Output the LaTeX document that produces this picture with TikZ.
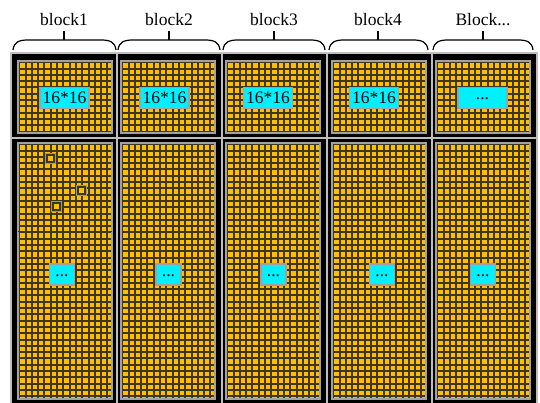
\documentclass[tikz,border=0pt]{standalone}
\usepackage{fontspec}
\setmainfont{Liberation Serif}
\definecolor{orgfill}{RGB}{255,190,0}
\definecolor{gridcol}{RGB}{62,54,30}
\definecolor{framegray}{RGB}{190,190,190}
\definecolor{cyanfill}{RGB}{0,240,255}
\definecolor{cyanborder}{RGB}{160,160,160}
\tikzset{
  blockframe/.style={fill=black, draw=framegray, line width=1.4pt},
  innerborder/.style={draw=framegray!85!black, line width=1.3pt},
  gridline/.style={draw=gridcol, line width=2pt},
  cyanbox/.style={fill=cyanfill, draw=cyanborder, line width=1.6pt, inner sep=0pt,
     font=\fontsize{17.5}{19}\selectfont},
  labeltext/.style={font=\fontsize{17.5}{19}\selectfont, inner sep=0pt},
  bracestyle/.style={draw=black, line width=1.2pt},
  marksq/.style={draw=gridcol, line width=1.6pt, fill=orgfill, sharp corners},
  marksqout/.style={draw=framegray!80!black, line width=0.8pt, sharp corners}
}
% x0 y0 w h ncols nrows
\newcommand\myorangegrid[6]{%
  \fill[orgfill] (#1,#2) rectangle ++(#3,#4);
  \begin{scope}
    \clip (#1,#2) rectangle ++(#3,#4);
    \foreach \k in {0,...,#5} \draw[gridline] (#1+1.2+\k*6.3,#2) -- ++(0,#4);
    \foreach \k in {0,...,#6} \draw[gridline] (#1,#2+1.2+\k*6.3) -- ++(#3,0);
  \end{scope}
  \draw[innerborder] (#1,#2) rectangle ++(#3,#4);
}
\newcommand\mybrace[3]{% left right stub
  \draw[bracestyle] (#1,50) .. controls (#1+1,42) and (#1+6,40) .. (#1+15,40)
     -- (#2-15,40) .. controls (#2-6,40) and (#2-1,42) .. (#2,50);
  \draw[bracestyle] (#3,40) -- (#3,31);
}
\newcommand\mymark[2]{%
  \draw[marksq] (#1,#2) rectangle ++(7,7);
  \draw[marksqout] (#1-1.3,#2-1.3) rectangle ++(9.6,9.6);
}
\begin{document}
\begin{tikzpicture}[x=1pt,y=-1pt]
\useasboundingbox (0,0) rectangle (540,402);
\fill[white] (0,0) rectangle (540,402);
% frames
\foreach \xl/\xr in {11/117,117/222,222/327,327/432,432/537}{
  \draw[blockframe] (\xl,53) rectangle (\xr,138);
  \draw[blockframe] (\xl,138) rectangle (\xr,405);
}
% grids top
\foreach \xo in {18,121,226,332,436}{
  \myorangegrid{\xo}{61}{94}{72}{15}{11}
}
% grids bottom
\foreach \xo in {18,121,226,332,436}{
  \myorangegrid{\xo}{143}{94}{256}{15}{41}
}
% block1 seam
\draw[gridcol, line width=1pt] (18,231) -- (112,231);
% marked cells
\mymark{47}{155}
\mymark{78}{187}
\mymark{53}{203}
% braces
\mybrace{13}{116}{64}
\mybrace{118}{220}{169}
\mybrace{223}{325}{274}
\mybrace{329}{428}{378}
\mybrace{433}{533}{483}
% labels
\node[labeltext] (l1) at (64,20) {block1};
\node[labeltext] (l2) at (169,20) {block2};
\node[labeltext] (l3) at (274,20) {block3};
\node[labeltext] (l4) at (378,20) {block4};
\node[labeltext] (l5) at (483,20) {Block...};
% top cyan boxes
\foreach \cx/\nm in {64.5/t1,164.5/t2,268/t3,374/t4}{
  \node[cyanbox, minimum width=49pt, minimum height=21pt] (\nm) at (\cx,98) {16*16};
}
\node[cyanbox, minimum width=49pt, minimum height=21pt] (t5) at (482.5,98) {\raisebox{-4pt}{...}};
% bottom cyan boxes
\foreach \cx/\nm in {62/b1,168.5/b2,273.5/b3,382/b4,483/b5}{
  \node[cyanbox, minimum width=25pt, minimum height=21pt] (\nm) at (\cx,274.5) {\raisebox{-4pt}{...}};
}
\end{tikzpicture}
\end{document}
